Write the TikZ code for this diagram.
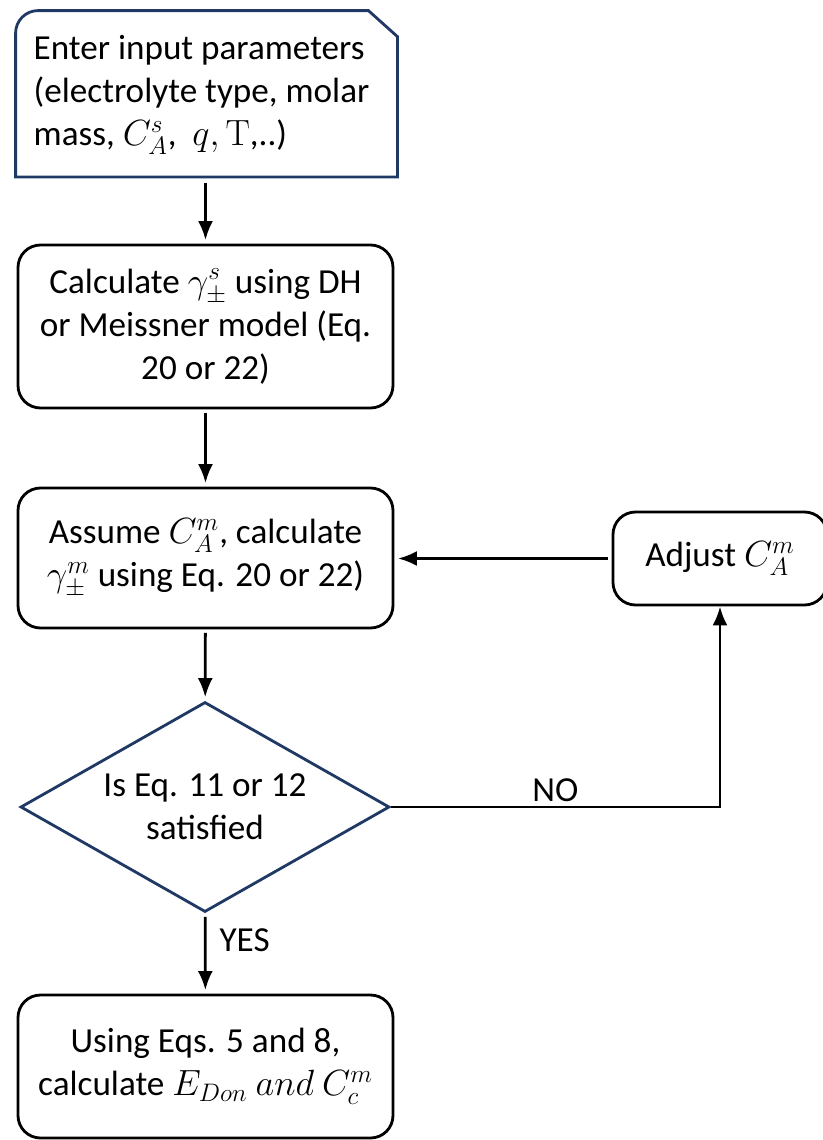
\documentclass[tikz,border=0pt]{standalone}
\usepackage[no-math]{fontspec}
\setmainfont{Carlito}
\usetikzlibrary{shapes.geometric, arrows.meta}
\definecolor{navyline}{RGB}{31,56,100}

\begin{document}
\begin{tikzpicture}[>={Latex[length=0.38cm,width=0.3cm]}, line width=1.6pt,
    every node/.style={font=\fontsize{20pt}{24.5pt}\selectfont},
    procbox/.style={draw, rounded corners=0.45cm, align=center, inner sep=0pt},
    decide/.style={draw=navyline, diamond, shape aspect=1.76, align=center,
        inner sep=0pt, minimum width=7.38cm, minimum height=4.2cm},
    arr/.style={->, shorten <=2pt, shorten >=2pt}]
    \useasboundingbox (0, 0) rectangle (16.46, -22.8);

    % Input box
    \node[align=left, minimum width=7.58cm, minimum height=3.22cm,
        inner sep=0pt] (input) at (4.03, -1.9)
        {Enter input parameters\\(electrolyte type, molar\\mass, $C_A^s$, \ $q, \mathrm{T}$,..)};
    \draw[navyline] ([xshift=0.1cm]input.south west) [rounded corners=0.45cm]
        -- ([xshift=0.1cm, yshift=0.05cm]input.north west)
        [sharp corners] -- ([xshift=-0.48cm, yshift=0.05cm]input.north east)
        -- ([xshift=0.1cm, yshift=-0.47cm]input.north east)
        -- ([xshift=0.1cm]input.south east) -- cycle;

    % Process boxes
    \node[procbox, minimum width=7.5cm, minimum height=3.26cm] (gammas) at (4.11, -6.53)
        {Calculate $\gamma_\pm^s$ using DH\\or Meissner model (Eq.\\20 or 22)};
    \node[procbox, minimum width=7.5cm, minimum height=2.8cm] (assume) at (4.11, -11.16)
        {Assume $C_A^m$, calculate\\$\gamma_\pm^m$ using Eq. 20 or 22)};
    \node[decide] (check) at (4.1, -16.14) {Is Eq. 11 or 12\\satisfied};
    \node[procbox, minimum width=7.5cm, minimum height=2.86cm] (result) at (4.11, -21.33)
        {Using Eqs. 5 and 8,\\calculate $E_{Don}\ and\ C_c^m$};
    \node[procbox, minimum width=4.28cm, minimum height=1.86cm] (adjust) at (14.4, -11.17)
        {Adjust $C_A^m$};

    % Connectors
    \draw[arr] ([yshift=-0.05cm]input.south -| gammas.north) -- (gammas);
    \draw[arr] (gammas) -- (assume);
    \draw[arr] (assume) -- (check);
    \draw[arr] (check) -- node[right, pos=0.34, xshift=4pt] {YES} (result);
    \draw[arr] (adjust.west) -- (adjust.west -| assume.east);
    \draw[->] (check.east) -- node[above, inner sep=2pt] {NO} (check.east -| adjust.south)
        -- (adjust.south);
\end{tikzpicture}
\end{document}
